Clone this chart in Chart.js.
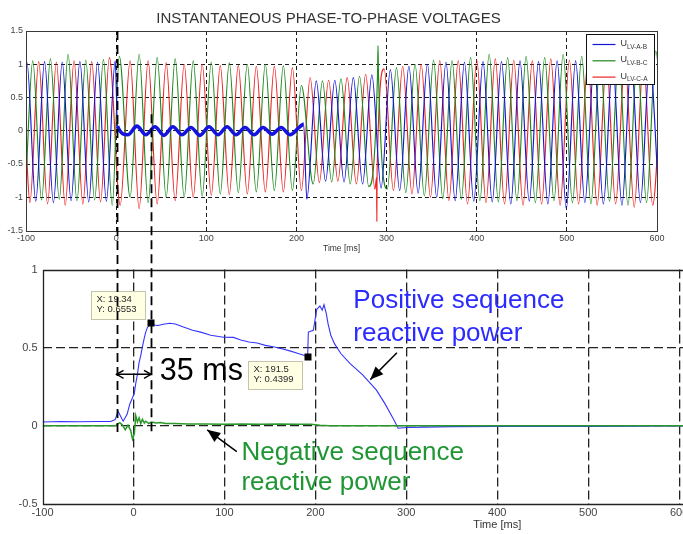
<!DOCTYPE html>
<html><head><meta charset="utf-8">
<script src="https://cdn.jsdelivr.net/npm/chart.js@4/dist/chart.umd.min.js"></script>
<style>
html,body{margin:0;padding:0;background:#fff;width:683px;height:534px;overflow:hidden}
#wrap{position:relative;width:683px;height:534px;overflow:hidden}
#c1{position:absolute;left:0;top:0}
#c2{position:absolute;left:0;top:258px}
#ov{position:absolute;left:0;top:0;pointer-events:none}
</style></head><body>
<div id="wrap">
<canvas id="c1" width="683" height="258"></canvas>
<canvas id="c2" width="975" height="276"></canvas>
<canvas id="ov" width="683" height="534"></canvas>
</div>
<script>
// ---------------- DATA ----------------
const topTitle = 'INSTANTANEOUS PHASE-TO-PHASE VOLTAGES';
const axisTitle = 'Time [ms]';
const phaseMain = 'U';
const phaseSubs = ['LV-A-B', 'LV-B-C', 'LV-C-A'];
const timeTicksTop = [-100, 0, 100, 200, 300, 400, 500, 600];

// [time ms, voltage p.u.] at waveform extremes (and transients)
const phaseAB = [[-100,0.99],[-99,1.03],[-89.2,-1.06],[-79.4,1.04],[-69.6,-1.08],[-59.8,1.03],[-50,-1.05],[-40.2,1.04],[-30.4,-1.07],[-20.6,1.03],[-10.8,-1.06],[-1,1.05],
[1.5,0.07],[13,-0.06],[23,0.07],[33,-0.06],[43,0.06],[53,-0.07],[63,0.06],[73,-0.06],[83,0.05],[93,-0.07],[103,0.06],[113,-0.06],[123,0.06],[133,-0.06],[143,0.05],[153,-0.06],[163,0.05],[173,-0.05],[183,0.05],[193,-0.06],[203,0.05],[208,0.1],
[211.5,-1.03],[222,0.75],[232.3,-0.76],[242.6,0.76],[252.8,-0.77],[263.1,0.8],[273.4,-0.8],[283.7,0.84],[293.9,-0.86],[304.2,0.92],[314.5,-0.9],[324.8,0.97],[335,-0.94],[345.3,1.0],[355.6,-1.0],[365.9,1.03],[376.1,-1.05],[386.4,1.03],[396.7,-1.06],[407,1.04],[417.2,-1.07],[427.5,1.04],[437.8,-1.1],[448,1.05],[458.3,-1.06],[468.6,1.04],[478.9,-1.1],[489.2,1.05],[499.4,-1.17],[509.7,1.05],[520,-1.08],[530.3,1.05],[540.5,-1.1],[550.8,1.04],[561.1,-1.12],[571.4,1.05],[581.6,-1.08],[591.9,1.04],[602.2,-1.06]];

const phaseBC = [[-100,-0.72],[-92.5,1.05],[-82.7,-1.04],[-72.9,1.08],[-63.1,-1.03],[-53.3,1.15],[-43.5,-1.05],[-33.7,1.06],[-23.9,-1.04],[-14.1,1.07],[-4.3,-1.12],
[3.5,1.12],[15.5,-1.0],[25.5,1.15],[35.5,-1.08],[45.5,1.1],[55.5,-1.0],[65.5,1.08],[75.5,-1.0],[85.5,1.05],[95.5,-0.98],[105.5,1.03],[115.5,-0.95],[125.5,1.02],[135.5,-0.93],[145.5,1.0],[155.5,-0.92],[165.5,1.0],[175.5,-0.9],[185.5,0.98],[195.5,-0.9],[205.5,0.68],
[218.6,-0.8],[228.9,0.75],[239.1,-0.77],[249.4,0.78],[259.7,-0.8],[270,0.82],[280.2,-0.84],[290,0.86],[290.5,1.28],[291,0.86],[300.8,-0.88],[311,0.95],[321.3,-0.93],[331.6,1.0],[341.9,-0.98],[352.1,1.06],[362.4,-1.02],[372.7,1.05],[382.9,-1.03],[393.2,1.1],[403.5,-1.05],[413.8,1.15],[424,-1.07],[434.3,1.1],[444.6,-1.05],[454.8,1.12],[465.1,-1.08],[475.4,1.1],[485.7,-1.05],[495.9,1.15],[506.2,-1.08],[516.5,1.12],[526.7,-1.1],[537,1.1],[547.3,-1.06],[557.6,1.12],[567.8,-1.12],[578.1,1.1],[588.4,-1.08],[598.6,1.2],[608.9,-1.0]];

const phaseCA = [[-100,-0.2],[-95.7,-1.08],[-85.9,1.04],[-76.1,-1.1],[-66.3,1.03],[-56.5,-1.12],[-46.7,1.05],[-36.9,-1.1],[-27.1,1.04],[-17.3,-1.07],[-7.5,1.1],
[4.5,-1.12],[15.5,1.05],[25.5,-1.17],[35.5,1.05],[45.5,-1.1],[55.5,1.02],[65.5,-1.05],[75.5,1.0],[85.5,-1.0],[95.5,1.0],[105.5,-0.97],[115.5,0.98],[125.5,-0.96],[135.5,0.98],[145.5,-0.95],[155.5,0.97],[165.5,-0.92],[175.5,0.97],[185.5,-0.92],[195.5,0.95],[205.5,-0.9],
[215.2,0.8],[225.4,-0.78],[235.7,0.76],[246,-0.76],[256.3,0.8],[266.5,-0.8],[276.8,0.85],[287.1,-0.88],[288.9,-0.7],[289.2,-1.36],[289.5,-0.6],[297.3,0.93],[307.6,-0.9],[317.9,0.97],[328.2,-0.95],[338.4,1.0],[348.7,-1.0],[359,1.05],[369.2,-1.05],[379.5,1.05],[389.8,-1.1],[400.1,1.06],[410.3,-1.08],[420.6,1.08],[430.9,-1.1],[441.1,1.06],[451.4,-1.12],[461.7,1.05],[472,-1.1],[482.2,1.08],[492.5,-1.12],[502.8,1.06],[513,-1.1],[523.3,1.05],[533.6,-1.12],[543.9,1.04],[554.1,-1.1],[564.4,1.06],[574.7,-1.15],[584.9,1.05],[595.2,-1.12],[605.5,1.0]];

// fault interval where U_AB collapses (drawn bold)
const faultInterval = [1.5, 208];

// bottom chart: sequence reactive power [time ms, p.u.]
const posSeqQ = [[-100,0.025],[-80,0.028],[-60,0.026],[-40,0.028],[-25,0.028],[-20,0.04],[-17,0.095],[-14,0.06],[-11.3,0.03],[-7,0.074],[-4,0.14],[-1,0.18],[1,0.21],[2.5,0.27],[4.4,0.33],[6,0.4],[8,0.45],[10,0.51],[11.7,0.556],[13.5,0.6],[15.4,0.63],[19.34,0.6553],[23,0.645],[27,0.642],[33,0.65],[40,0.657],[46,0.652],[55,0.632],[65,0.612],[74,0.6],[85,0.58],[99,0.567],[110,0.566],[118,0.55],[127,0.537],[136,0.53],[145,0.515],[155,0.505],[163,0.493],[172,0.48],[182,0.462],[188,0.45],[191.5,0.4399],[192.3,0.6],[197.8,0.612],[201.5,0.745],[205,0.767],[207.5,0.74],[209.5,0.775],[212,0.72],[214,0.653],[217,0.58],[221,0.526],[228,0.463],[238,0.4],[252,0.326],[267,0.23],[276,0.147],[286,0.042],[291,-0.015],[300,-0.01],[320,-0.008],[350,-0.005],[400,-0.004],[450,-0.003],[500,-0.003],[550,-0.002],[600,-0.001],[700,0],[900,0]];
const negSeqQ = [[-100,0],[-20,0],[-15,0.02],[-12,0.005],[-9,-0.025],[-6,0.005],[-3,-0.03],[-1,-0.085],[1,-0.05],[2.5,0.065],[4.4,0.025],[6.2,0.052],[8,0.015],[9.8,0.042],[12,0.018],[13.5,0.03],[17,0.015],[20,0.025],[25,0.018],[30,0.022],[35,0.015],[45,0.015],[60,0.012],[80,0.012],[100,0.01],[120,0.012],[140,0.01],[160,0.012],[180,0.01],[195,0.01],[205,0.004],[215,0],[900,0]];
const posLabel = ['Positive sequence', 'reactive power'];
const negLabel = ['Negative sequence', 'reactive power'];

// data tips
const tipX = [19.34, 191.5];
const tipY = [0.6553, 0.4399];

// response-time markers (bottom-chart time) and label
const markerTimes = [-18.6, 19.34];
const responseLabel = '35 ms';

// ---------------- STYLE / RENDER ----------------
const FONT = "'Liberation Sans', Arial, Helvetica, sans-serif";
Chart.defaults.font.family = FONT;
const xy = p => p.map(d => ({x: d[0], y: d[1]}));
const plain = v => String(Math.round(v * 1000) / 1000);
const colAB = '#1414dc', colBC = '#1d8a1d', colCA = '#ee2424';

const frameTop = {
  id: 'frameTop',
  afterDraw(chart) {
    const {ctx, chartArea: a} = chart;
    ctx.save();
    ctx.strokeStyle = '#3a3a3a'; ctx.lineWidth = 1;
    ctx.strokeRect(Math.round(a.left) + 0.5, Math.round(a.top) + 0.5, Math.round(a.right - a.left), Math.round(a.bottom - a.top));
    // legend with subscripts
    const bw = 68, bh = 50;
    const bx = Math.round(a.right - 3 - bw) + 0.5, by = Math.round(a.top + 3) + 0.5;
    ctx.fillStyle = '#fff'; ctx.fillRect(bx, by, bw, bh);
    ctx.strokeStyle = '#111'; ctx.strokeRect(bx, by, bw, bh);
    chart.data.datasets.forEach((ds, i) => {
      const y = by + 10 + i * 16.3;
      ctx.strokeStyle = ds.borderColor; ctx.lineWidth = 1.2;
      ctx.beginPath(); ctx.moveTo(bx + 6, y); ctx.lineTo(bx + 29, y); ctx.stroke();
      ctx.fillStyle = '#333'; ctx.textBaseline = 'middle'; ctx.textAlign = 'left';
      ctx.font = '9px ' + FONT; ctx.fillText(phaseMain, bx + 34, y - 1);
      const w = ctx.measureText(phaseMain).width;
      ctx.font = '6.5px ' + FONT; ctx.fillText(phaseSubs[i], bx + 34 + w, y + 2.5);
    });
    ctx.restore();
  }
};

const skipEdge = (lo, hi, col) => c => (c.tick && (c.tick.value === lo || c.tick.value === hi)) ? 'rgba(0,0,0,0)' : col;

const chartTop = new Chart(document.getElementById('c1'), {
  type: 'line',
  data: {
    datasets: [
      {label: phaseMain + phaseSubs[0], data: xy(phaseAB), borderColor: colAB, borderWidth: 1.15,
       segment: {borderWidth: c => (c.p0.parsed.x >= faultInterval[0] && c.p1.parsed.x <= faultInterval[1]) ? 3.6 : undefined}},
      {label: phaseMain + phaseSubs[1], data: xy(phaseBC), borderColor: colBC, borderWidth: 1.15},
      {label: phaseMain + phaseSubs[2], data: xy(phaseCA), borderColor: colCA, borderWidth: 1.15}
    ]
  },
  options: {
    responsive: false, animation: false, devicePixelRatio: 1,
    parsing: false,
    elements: {point: {radius: 0}, line: {cubicInterpolationMode: 'monotone'}},
    layout: {padding: {left: 0, right: 26, top: 0, bottom: 0}},
    plugins: {
      legend: {display: false}, tooltip: {enabled: false},
      title: {display: true, text: topTitle, color: '#333', font: {size: 15, weight: 'normal'}, padding: {top: 10, bottom: 3}}
    },
    scales: {
      x: {type: 'linear', min: -100, max: 600,
          afterBuildTicks: s => { s.ticks = timeTicksTop.map(v => ({value: v})); },
          afterFit: s => { s.height = 27.5; },
          ticks: {color: '#444', font: {size: 9}, padding: 2.5, maxRotation: 0, autoSkip: false, callback: plain},
          grid: {drawTicks: false, color: skipEdge(-100, 600, '#1a1a1a'), lineWidth: 1},
          border: {display: false, dash: [4, 3]},
          title: {display: true, text: axisTitle, color: '#333', font: {size: 8.5}, padding: {top: 0, bottom: 4.6}}},
      y: {min: -1.5, max: 1.5,
          afterFit: s => { s.width = 26; },
          ticks: {stepSize: 0.5, color: '#444', font: {size: 9}, padding: 3, callback: plain},
          grid: {drawTicks: false, color: skipEdge(-1.5, 1.5, '#1a1a1a'), lineWidth: 1},
          border: {display: false, dash: [4, 3]}}
    }
  },
  plugins: [frameTop]
});

function arrowHead(ctx, x1, y1, x2, y2, len, half, filled) {
  const ang = Math.atan2(y2 - y1, x2 - x1);
  const bx = x2 - len * Math.cos(ang), by = y2 - len * Math.sin(ang);
  const px = -Math.sin(ang) * half, py = Math.cos(ang) * half;
  ctx.beginPath();
  ctx.moveTo(bx + px, by + py); ctx.lineTo(x2, y2); ctx.lineTo(bx - px, by - py);
  if (filled) { ctx.closePath(); ctx.fill(); } else ctx.stroke();
}

const annotBottom = {
  id: 'annotBottom',
  afterDraw(chart) {
    const {ctx, chartArea: a} = chart;
    const X = v => chart.scales.x.getPixelForValue(v), Y = v => chart.scales.y.getPixelForValue(v);
    ctx.save();
    // frame (left, bottom, top)
    ctx.strokeStyle = '#222'; ctx.lineWidth = 1.3;
    ctx.beginPath();
    ctx.moveTo(a.right, Math.round(a.top) + 0.5); ctx.lineTo(Math.round(a.left) + 0.5, Math.round(a.top) + 0.5);
    ctx.lineTo(Math.round(a.left) + 0.5, Math.round(a.bottom) + 0.5); ctx.lineTo(a.right, Math.round(a.bottom) + 0.5);
    ctx.stroke();
    // text labels
    ctx.textAlign = 'left'; ctx.textBaseline = 'middle';
    ctx.font = '26px ' + FONT;
    ctx.fillStyle = '#2b2bff';
    ctx.fillText(posLabel[0], X(241.8), Y(0.797));
    ctx.fillText(posLabel[1], X(241.8), Y(0.589));
    ctx.fillStyle = '#1f9633';
    ctx.fillText(negLabel[0], X(118.7), Y(-0.171));
    ctx.fillText(negLabel[1], X(118.7), Y(-0.367));
    ctx.fillStyle = '#000'; ctx.font = '30.5px ' + FONT;
    ctx.fillText(responseLabel, X(29), Y(0.347));
    // pointer arrows
    ctx.strokeStyle = '#000'; ctx.fillStyle = '#000'; ctx.lineWidth = 1.5;
    [[289.7, 0.468, 260.4, 0.296], [113.6, -0.165, 81.1, -0.025]].forEach(r => {
      const x1 = X(r[0]), y1 = Y(r[1]), x2 = X(r[2]), y2 = Y(r[3]);
      ctx.beginPath(); ctx.moveTo(x1, y1); ctx.lineTo(x2, y2); ctx.stroke();
      arrowHead(ctx, x1, y1, x2, y2, 13, 5.5, true);
    });
    // double arrow for response time
    const ya = Y(0.33), xa = X(markerTimes[0]), xb = X(markerTimes[1]);
    ctx.lineWidth = 1.4;
    ctx.beginPath(); ctx.moveTo(xa, ya); ctx.lineTo(xb, ya); ctx.stroke();
    arrowHead(ctx, xb, ya, xa, ya, 7, 4, false);
    arrowHead(ctx, xa, ya, xb, ya, 7, 4, false);
    // data tips
    tipX.forEach((tx, i) => {
      const mx = X(tx), my = Y(tipY[i]);
      const bw = 54, bh = 28;
      const bx = Math.round(mx - 6 - bw) + 0.5;
      const by = i === 0 ? Math.round(my - 4 - bh) + 0.5 : Math.round(my + 4) + 0.5;
      ctx.fillStyle = '#ffffe4'; ctx.fillRect(bx, by, bw, bh);
      ctx.strokeStyle = '#c4c4ae'; ctx.lineWidth = 1; ctx.strokeRect(bx, by, bw, bh);
      ctx.fillStyle = '#2a2a2a'; ctx.font = '9.5px ' + FONT; ctx.textBaseline = 'middle';
      ctx.fillText('X: ' + tx, bx + 5, by + 8);
      ctx.fillText('Y: ' + tipY[i], bx + 5, by + 17.5);
      ctx.fillStyle = '#000'; ctx.fillRect(Math.round(mx) - 3.5, Math.round(my) - 3.5, 7, 7);
    });
    ctx.restore();
  }
};

const chartBottom = new Chart(document.getElementById('c2'), {
  type: 'line',
  data: {
    datasets: [
      {label: posLabel.join(' '), data: xy(posSeqQ), borderColor: '#3434ff', borderWidth: 1.1, order: 1, tension: 0},
      {label: negLabel.join(' '), data: xy(negSeqQ), borderColor: '#2a982a', borderWidth: 1.5, order: 0, tension: 0}
    ]
  },
  options: {
    responsive: false, animation: false, devicePixelRatio: 1,
    parsing: false,
    elements: {point: {radius: 0}},
    layout: {padding: {left: 0, right: 23, top: 9, bottom: 0}},
    plugins: {legend: {display: false}, tooltip: {enabled: false}, title: {display: false}},
    scales: {
      x: {type: 'linear', min: -100, max: 900,
          afterFit: s => { s.height = 30; },
          ticks: {stepSize: 100, color: '#444', font: {size: 11}, padding: 2.4, maxRotation: 0, autoSkip: false, callback: plain},
          grid: {drawTicks: false, color: skipEdge(-100, 900, '#222'), lineWidth: 1.3},
          border: {display: false, dash: [9, 4]},
          title: {display: true, text: axisTitle, color: '#333', font: {size: 11}, padding: {top: 0, bottom: 2.4}}},
      y: {min: -0.5, max: 1,
          afterFit: s => { s.width = 42.5; },
          ticks: {stepSize: 0.5, color: '#444', font: {size: 11}, padding: 5, callback: plain},
          grid: {drawTicks: false, color: skipEdge(-0.5, 1, '#222'), lineWidth: 1.3},
          border: {display: false, dash: [9, 4]}}
    }
  },
  plugins: [annotBottom]
});

// markers crossing both panels
(function drawOverlay() {
  const ctx = document.getElementById('ov').getContext('2d');
  const off = 258;
  const xs = chartBottom.scales.x, yb = chartBottom.scales.y, yt = chartTop.scales.y;
  const starts = [1.5, 0.25], ends = [-0.04, -0.05];
  ctx.save();
  ctx.strokeStyle = '#000'; ctx.lineWidth = 1.8; ctx.setLineDash([9, 5]);
  markerTimes.forEach((t, i) => {
    const x = Math.round(xs.getPixelForValue(t)) + 0.5;
    ctx.beginPath();
    ctx.moveTo(x, yt.getPixelForValue(starts[i]));
    ctx.lineTo(x, off + yb.getPixelForValue(ends[i]));
    ctx.stroke();
  });
  ctx.restore();
})();
</script>
</body></html>
